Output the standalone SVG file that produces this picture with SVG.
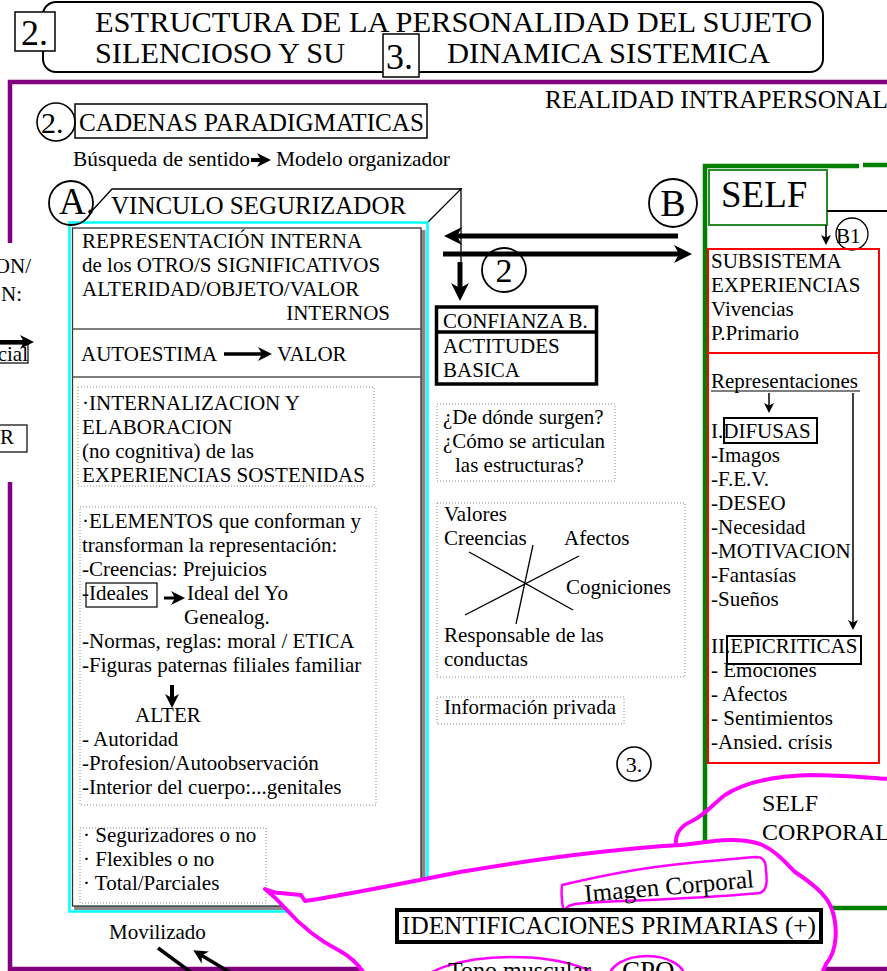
<svg xmlns="http://www.w3.org/2000/svg" width="887" height="971" viewBox="0 0 887 971">
<style>
text{font-family:"Liberation Serif","Times New Roman",serif;font-size:21px;fill:#000}
.f22{font-size:22px}
.f24{font-size:24px}
.f25{font-size:25px}
.f27{font-size:27px}
.f29{font-size:29px}
.f30{font-size:30px}
.f34{font-size:34px}
.f36{font-size:36px}
.f37{font-size:37px}
.f38{font-size:38px}
.dot{fill:none;stroke:#888;stroke-width:1;stroke-dasharray:1 2}
.pur{fill:none;stroke:#800080;stroke-width:4.5}
.thin{fill:none;stroke:#000;stroke-width:1.3}
.box{fill:#fff;stroke:#000;stroke-width:1.5}
.circ{fill:none;stroke:#000;stroke-width:1.6}
.grn{fill:none;stroke:#008000;stroke-width:4.5}
.red{fill:none;stroke:#ff0000;stroke-width:2}
.mag{fill:none;stroke:#ff00ff;stroke-width:4;stroke-linejoin:round;stroke-linecap:round}
.magf{fill:#fff;stroke:#ff00ff;stroke-width:4;stroke-linejoin:round;stroke-linecap:round}
.mag2{fill:none;stroke:#ff00ff;stroke-width:2.5;stroke-linejoin:round}
.conn{fill:none;stroke:#000}
</style>
<defs>
<marker id="hBig" viewBox="0 0 18 18" markerWidth="18" markerHeight="18" markerUnits="userSpaceOnUse" refX="6" refY="9" orient="auto"><path d="M0,0 L18,9 L0,18 L5,9 z" fill="#000"/></marker>
<marker id="hMid" viewBox="0 0 14 14" markerWidth="14" markerHeight="14" markerUnits="userSpaceOnUse" refX="5" refY="7" orient="auto"><path d="M0,0 L14,7 L0,14 L4,7 z" fill="#000"/></marker>
<marker id="hSmall" viewBox="0 0 10 10" markerWidth="10" markerHeight="10" markerUnits="userSpaceOnUse" refX="3" refY="5" orient="auto"><path d="M0,0 L10,5 L0,10 L2.5,5 z" fill="#000"/></marker>
</defs>
<rect x="0" y="0" width="887" height="971" fill="#fff"/>

<g id="frame-purple">
<path class="pur" d="M10,243 V82 H887"/>
<path class="pur" d="M10,482 V969 H887"/>
</g>

<g id="title">
<rect x="43" y="2" width="780" height="70" rx="13" fill="#fff" stroke="#000" stroke-width="2"/>
<text x="95" y="32" class="f29" textLength="717" lengthAdjust="spacingAndGlyphs">ESTRUCTURA  DE LA PERSONALIDAD  DEL SUJETO</text>
<text x="95" y="63" class="f29" textLength="250" lengthAdjust="spacingAndGlyphs">SILENCIOSO  Y SU</text>
<text x="447" y="63" class="f29" textLength="323" lengthAdjust="spacingAndGlyphs">DINAMICA  SISTEMICA</text>
<rect x="15" y="12" width="40" height="39" class="box"/>
<text x="21" y="45" class="f36">2.</text>
<rect x="383" y="34" width="36" height="43" class="box"/>
<text x="386" y="69" class="f36">3.</text>
</g>

<g id="realidad">
<text x="545" y="108" class="f25" textLength="343" lengthAdjust="spacingAndGlyphs">REALIDAD INTRAPERSONAL</text>
</g>

<g id="cadenas">
<rect x="75" y="104" width="352" height="34" class="box"/>
<circle cx="56" cy="122" r="19" class="circ"/>
<text x="41" y="133" class="f30">2.</text>
<text x="79" y="131" class="f25" textLength="345" lengthAdjust="spacingAndGlyphs">CADENAS PARADIGMATICAS</text>
<text x="73" y="166" textLength="177" lengthAdjust="spacingAndGlyphs">Búsqueda de sentido</text>
<text x="276" y="166" textLength="174" lengthAdjust="spacingAndGlyphs">Modelo organizador</text>
</g>

<g id="left-cut">
<text x="31" y="273" text-anchor="end">ON/</text>
<text x="22" y="301" text-anchor="end">N:</text>
<rect x="-2" y="344" width="30" height="19" fill="none" stroke="#000" stroke-width="1.2"/>
<text x="28" y="361" text-anchor="end">cial</text>
<rect x="-2" y="425" width="29" height="27" fill="none" stroke="#000" stroke-width="1.2"/>
<text x="0" y="444">R</text>
</g>

<g id="nodeA">
<path class="thin" d="M90,213 L112,189 H461 L428,222"/>
<rect x="69.5" y="222.5" width="358" height="689" fill="#fff" stroke="#00ffff" stroke-width="2.5"/>
<rect x="421" y="230" width="4.5" height="680" fill="#888"/>
<rect x="74" y="906" width="351" height="4" fill="#888"/>
<rect x="72.5" y="228" width="348.5" height="678" fill="#fff" stroke="#333" stroke-width="1.3"/>
<line x1="72.5" y1="329" x2="421" y2="329" stroke="#555" stroke-width="1.5"/>
<line x1="72.5" y1="377" x2="421" y2="377" stroke="#555" stroke-width="1.5"/>
<circle cx="71" cy="203" r="22" fill="none" stroke="#000" stroke-width="1.8"/>
<text x="59" y="214" class="f37">A.</text>
<text x="111" y="214" class="f25">VINCULO SEGURIZADOR</text>
<text x="82" y="248">REPRESENTACIÓN INTERNA</text>
<text x="82" y="272">de los OTRO/S SIGNIFICATIVOS</text>
<text x="82" y="296">ALTERIDAD/OBJETO/VALOR</text>
<text x="390" y="320" text-anchor="end">INTERNOS</text>
<text x="81" y="361">AUTOESTIMA</text>
<text x="277" y="361">VALOR</text>
<rect x="78" y="387" width="296" height="99" class="dot"/>
<text x="82" y="410">·INTERNALIZACION Y</text>
<text x="82" y="434">ELABORACION</text>
<text x="82" y="458">(no cognitiva) de las</text>
<text x="82" y="482">EXPERIENCIAS SOSTENIDAS</text>
<rect x="80" y="507" width="296" height="298" class="dot"/>
<text x="82" y="528">·ELEMENTOS que conforman y</text>
<text x="82" y="552">transforman la representación:</text>
<text x="82" y="576">-Creencias: Prejuicios</text>
<rect x="86" y="583" width="71" height="24" fill="none" stroke="#000" stroke-width="1.2"/>
<text x="82" y="600">-Ideales</text>
<text x="187" y="600">Ideal del Yo</text>
<text x="184" y="624">Genealog.</text>
<text x="82" y="648">-Normas, reglas: moral / ETICA</text>
<text x="82" y="672">-Figuras paternas filiales familiar</text>
<text x="135" y="722">ALTER</text>
<text x="82" y="746">- Autoridad</text>
<text x="82" y="770">-Profesion/Autoobservación</text>
<text x="82" y="794">-Interior del cuerpo:...genitales</text>
<rect x="80" y="828" width="186" height="75" class="dot"/>
<text x="83" y="842">· Segurizadores o no</text>
<text x="83" y="866">· Flexibles o no</text>
<text x="83" y="890">· Total/Parciales</text>
</g>

<g id="movilizado">
<text x="109" y="939">Movilizado</text>
</g>

<g id="confianza">
<rect x="436.5" y="307" width="160" height="77" fill="#fff" stroke="#000" stroke-width="3.5"/>
<line x1="436.5" y1="332" x2="596.5" y2="332" stroke="#000" stroke-width="3.5"/>
<text x="443" y="328">CONFIANZA B.</text>
<text x="443" y="353">ACTITUDES</text>
<text x="443" y="377">BASICA</text>
</g>

<g id="preguntas">
<rect x="437" y="404" width="178" height="77" class="dot"/>
<text x="443" y="424">¿De dónde surgen?</text>
<text x="443" y="448">¿Cómo se articulan</text>
<text x="455" y="472">las estructuras?</text>
</g>

<g id="valores">
<rect x="437" y="503" width="248" height="174" class="dot"/>
<text x="444" y="521">Valores</text>
<text x="444" y="545">Creencias</text>
<text x="564" y="545">Afectos</text>
<text x="566" y="594">Cogniciones</text>
<text x="444" y="642">Responsable de las</text>
<text x="444" y="666">conductas</text>
<line x1="469" y1="552" x2="573" y2="610" stroke="#000" stroke-width="1.3"/>
<line x1="465" y1="615" x2="579" y2="556" stroke="#000" stroke-width="1.3"/>
<line x1="533" y1="545" x2="516" y2="624" stroke="#000" stroke-width="1.3"/>
</g>

<g id="info-privada">
<rect x="437" y="697" width="187" height="27" class="dot"/>
<text x="444" y="714">Información privada</text>
</g>

<g id="circle-2">
<circle cx="504" cy="270" r="22" fill="#fff" stroke="#000" stroke-width="1.8"/>
<text x="504" y="282" class="f34" text-anchor="middle">2</text>
</g>
<g id="circle-B">
<circle cx="673" cy="203" r="24" fill="#fff" stroke="#000" stroke-width="1.8"/>
<text x="673" y="216" class="f38" text-anchor="middle">B</text>
</g>
<g id="circle-3">
<circle cx="634" cy="764" r="17" fill="none" stroke="#000" stroke-width="1.6"/>
<text x="634" y="772" class="f22" text-anchor="middle">3.</text>
</g>

<g id="self">
<path class="grn" d="M705,908 V166 H859"/>
<path class="grn" d="M863,165 H887"/>
<path class="grn" d="M822,908 H887"/>
<rect x="709" y="170" width="118" height="55" fill="none" stroke="#2a8a2a" stroke-width="2"/>
<text x="721" y="207" class="f37">SELF</text>
<circle cx="852" cy="234" r="16" fill="none" stroke="#000" stroke-width="1.3"/>
<text x="836" y="243">B1</text>
</g>

<g id="subsistema">
<rect x="708" y="249" width="171" height="514" class="red"/>
<line x1="708" y1="353" x2="879" y2="353" stroke="#ff0000" stroke-width="2"/>
<text x="711" y="268">SUBSISTEMA</text>
<text x="711" y="292">EXPERIENCIAS</text>
<text x="711" y="316">Vivencias</text>
<text x="711" y="340">P.Primario</text>
<text x="711" y="388">Representaciones</text>
<line x1="711" y1="391" x2="860" y2="391" stroke="#000" stroke-width="1.2"/>
<rect x="724" y="418" width="93" height="25" fill="none" stroke="#000" stroke-width="2"/>
<text x="711" y="438">I.DIFUSAS</text>
<text x="711" y="462">-Imagos</text>
<text x="711" y="486">-F.E.V.</text>
<text x="711" y="510">-DESEO</text>
<text x="711" y="534">-Necesidad</text>
<text x="711" y="558">-MOTIVACION</text>
<text x="711" y="582">-Fantasías</text>
<text x="711" y="606">-Sueños</text>
<text x="711" y="653">II.EPICRITICAS</text>
<text x="711" y="677">- Emociones</text>
<rect x="727" y="636" width="134" height="28" fill="none" stroke="#000" stroke-width="2"/>
<text x="711" y="701">- Afectos</text>
<text x="711" y="725">- Sentimientos</text>
<text x="711" y="749">-Ansied. crísis</text>
</g>

<g id="self-corporal">
<text x="762" y="811" class="f24">SELF</text>
<text x="762" y="840" class="f24">CORPORAL</text>
</g>

<g id="connectors">
<path class="conn" stroke-width="1.3" d="M461,188 V264"/>
<line x1="460" y1="262" x2="460" y2="289" class="conn" stroke-width="5" marker-end="url(#hBig)"/>
<line x1="678" y1="236" x2="456" y2="236" class="conn" stroke-width="5" marker-end="url(#hBig)"/>
<line x1="443" y1="254" x2="680" y2="254" class="conn" stroke-width="5" marker-end="url(#hBig)"/>
<line x1="827" y1="211" x2="887" y2="211" class="conn" stroke-width="2"/>
<line x1="826" y1="225" x2="826" y2="238" class="conn" stroke-width="1.6" marker-end="url(#hSmall)"/>
<line x1="769" y1="393" x2="769" y2="406" class="conn" stroke-width="1.5" marker-end="url(#hSmall)"/>
<line x1="853" y1="393" x2="853" y2="623" class="conn" stroke-width="1.5" marker-end="url(#hSmall)"/>
<line x1="224" y1="354" x2="263" y2="354" class="conn" stroke-width="3.5" marker-end="url(#hMid)"/>
<line x1="164" y1="598" x2="176" y2="598" class="conn" stroke-width="3" marker-end="url(#hMid)"/>
<line x1="172" y1="685" x2="172" y2="699" class="conn" stroke-width="4" marker-end="url(#hMid)"/>
<line x1="251" y1="160" x2="262" y2="160" class="conn" stroke-width="4" marker-end="url(#hMid)"/>
<line x1="-5" y1="342" x2="25" y2="342" class="conn" stroke-width="4" marker-end="url(#hMid)"/>
<line x1="158" y1="948" x2="192" y2="973" class="conn" stroke-width="3.5"/>
<line x1="236" y1="976" x2="201" y2="955" class="conn" stroke-width="3.5" marker-end="url(#hMid)"/>
</g>

<g id="blob">
<path class="magf" d="M265,889 C270,891 274,893 280,893 L301,895 L305,901 C340,896 400,884 460,872 C530,860 600,850 680,845 C710,842 735,836 760,844 C775,850 785,862 795,872 C810,882 825,893 831,907 C838,925 838,950 826,964 L815,990 L372,990 C366,972 356,960 340,951 C320,941 300,925 285,908 C278,900 270,893 265,889 Z"/>
<path class="mag" d="M676,845 C675,835 680,826 692,821 C705,815 712,805 725,795 C745,782 775,776 810,775 C845,775 870,778 890,779"/>
</g>

<g id="imagen-corporal">
<path class="mag2" d="M562,885 C600,876 640,868 680,864 C710,861 740,858 757,857 C764,857 766,862 766,870 C767,880 768,890 760,893 C730,896 690,898 650,900 C620,901 590,902 576,904 C568,905 565,908 564,912 C562,905 561,895 562,885 Z"/>
<text x="585" y="902" class="f25" transform="rotate(-5 585 902)">Imagen Corporal</text>
</g>

<g id="identificaciones">
<rect x="397" y="910" width="424" height="32" fill="#fff" stroke="#000" stroke-width="4"/>
<text x="402" y="934" class="f25" textLength="414" lengthAdjust="spacingAndGlyphs">IDENTIFICACIONES PRIMARIAS (+)</text>
</g>

<g id="bottom-ellipse">
<ellipse cx="512" cy="990" rx="95" ry="33" class="mag2"/>
<text x="448" y="978" class="f24">Tono muscular</text>
</g>

<g id="cpo">
<ellipse cx="647" cy="978" rx="38" ry="22" class="mag2"/>
<text x="622" y="980" class="f27">CPO</text>
</g>
</svg>
